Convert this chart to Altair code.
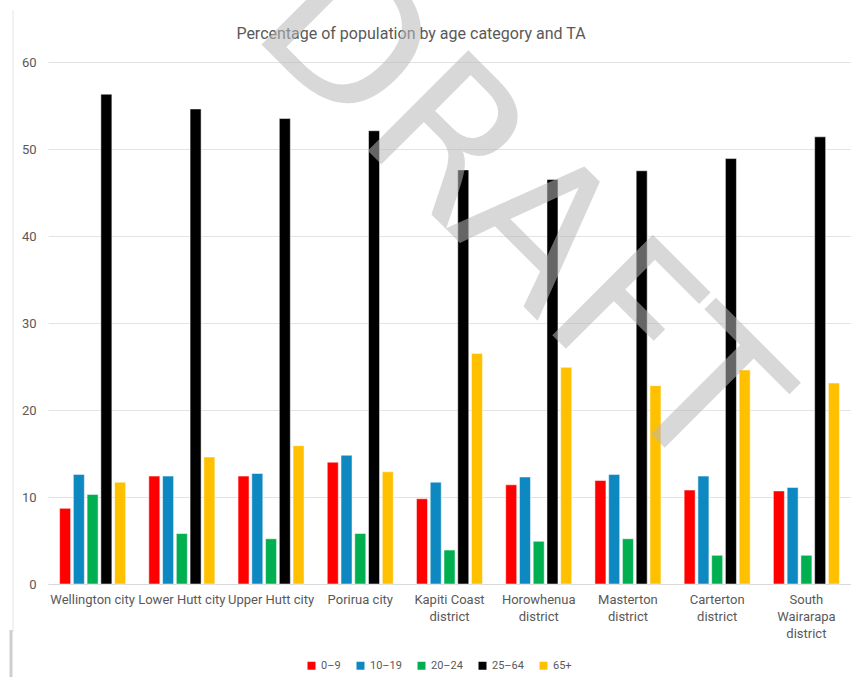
import altair as alt
import pandas as pd

categories = ["Wellington city", "Lower Hutt city", "Upper Hutt city", "Porirua city",
              "Kapiti Coast district", "Horowhenua district", "Masterton district",
              "Carterton district", "South Wairarapa district"]
ages = ["0–9", "10–19", "20–24", "25–64", "65+"]
colors = ["#FF0000", "#0E88C0", "#00B050", "#000000", "#FFC000"]

v_0_9 = [8.7, 12.4, 12.4, 14.0, 9.8, 11.4, 11.9, 10.8, 10.7]
v_10_19 = [12.6, 12.4, 12.7, 14.8, 11.7, 12.3, 12.6, 12.4, 11.1]
v_20_24 = [10.3, 5.8, 5.2, 5.8, 3.9, 4.9, 5.2, 3.3, 3.3]
v_25_64 = [56.3, 54.6, 53.5, 52.1, 47.6, 46.5, 47.5, 48.9, 51.4]
v_65 = [11.7, 14.6, 15.9, 12.9, 26.5, 24.9, 22.8, 24.6, 23.1]

title_text = "Percentage of population by age category and TA"
watermark_text = "DRAFT"

rows = []
for series, name in zip([v_0_9, v_10_19, v_20_24, v_25_64, v_65], ages):
    for cat, val in zip(categories, series):
        rows.append({"ta": cat, "age": name, "value": val})
df = pd.DataFrame(rows)

FONT = "Roboto"
GREY = "#595959"

label_expr = (
    "datum.label == 'South Wairarapa district' ? ['South', 'Wairarapa', 'district'] : "
    "(indexof(datum.label, ' district') > 0 ? [replace(datum.label, ' district', ''), 'district'] : datum.label)"
)

bars = alt.Chart(df).mark_bar(stroke="white", strokeWidth=0.5).encode(
    x=alt.X("ta:N", sort=categories, title=None,
            scale=alt.Scale(paddingInner=0.26, paddingOuter=0.13),
            axis=alt.Axis(labelAngle=0, labelExpr=label_expr, ticks=False, domain=True,
                          domainColor="#d9d9d9", labelColor=GREY, labelFont=FONT,
                          labelFontSize=13, labelPadding=9, labelLineHeight=17,
                          labelBaseline="top", grid=False)),
    xOffset=alt.XOffset("age:N", sort=ages, scale=alt.Scale(paddingInner=0.2, paddingOuter=0)),
    y=alt.Y("value:Q", title=None, scale=alt.Scale(domain=[0, 60], nice=False),
            axis=alt.Axis(values=[0, 10, 20, 30, 40, 50, 60], ticks=False, domain=False,
                          gridColor="#e3e3e3", labelColor=GREY, labelFont=FONT,
                          labelFontSize=13, labelPadding=12)),
    color=alt.Color("age:N", sort=ages, scale=alt.Scale(domain=ages, range=colors),
                    legend=alt.Legend(title=None, orient="none", direction="horizontal",
                                      legendX=258, legendY=598, symbolType="square",
                                      symbolSize=64, symbolStrokeWidth=0,
                                      labelFont=FONT, labelFontSize=11, labelColor=GREY,
                                      columnPadding=14, labelOffset=4)),
)

title = alt.Chart(pd.DataFrame({"t": [title_text]})).mark_text(
    font=FONT, fontSize=16, color=GREY, align="center", baseline="middle"
).encode(x=alt.value(363), y=alt.value(-28), text="t:N")

border = alt.Chart(pd.DataFrame({"a": [0]})).mark_rule(color="#e6e6e6", strokeWidth=1).encode(
    x=alt.value(-35), y=alt.value(-52), y2=alt.value(570))
border2 = alt.Chart(pd.DataFrame({"a": [0]})).mark_rule(color="#cfcfcf", strokeWidth=3).encode(
    x=alt.value(-37), y=alt.value(568), y2=alt.value(620))

watermark = alt.Chart(pd.DataFrame({"t": [watermark_text]})).mark_text(
    font="DejaVu Sans", fontSize=195, color="#b9b9b9", opacity=0.55,
    angle=45, align="center", baseline="alphabetic"
).encode(x=alt.value(426), y=alt.value(195), text="t:N")

chart = alt.layer(border, border2, bars, title, watermark).properties(
    width=803, height=522,
    autosize=alt.AutoSizeParams(type="none"),
    padding={"left": 48, "top": 62, "right": 0, "bottom": 93},
).configure_view(stroke=None)

chart.save("out.html", embed_options={"renderer": "svg", "actions": False})
